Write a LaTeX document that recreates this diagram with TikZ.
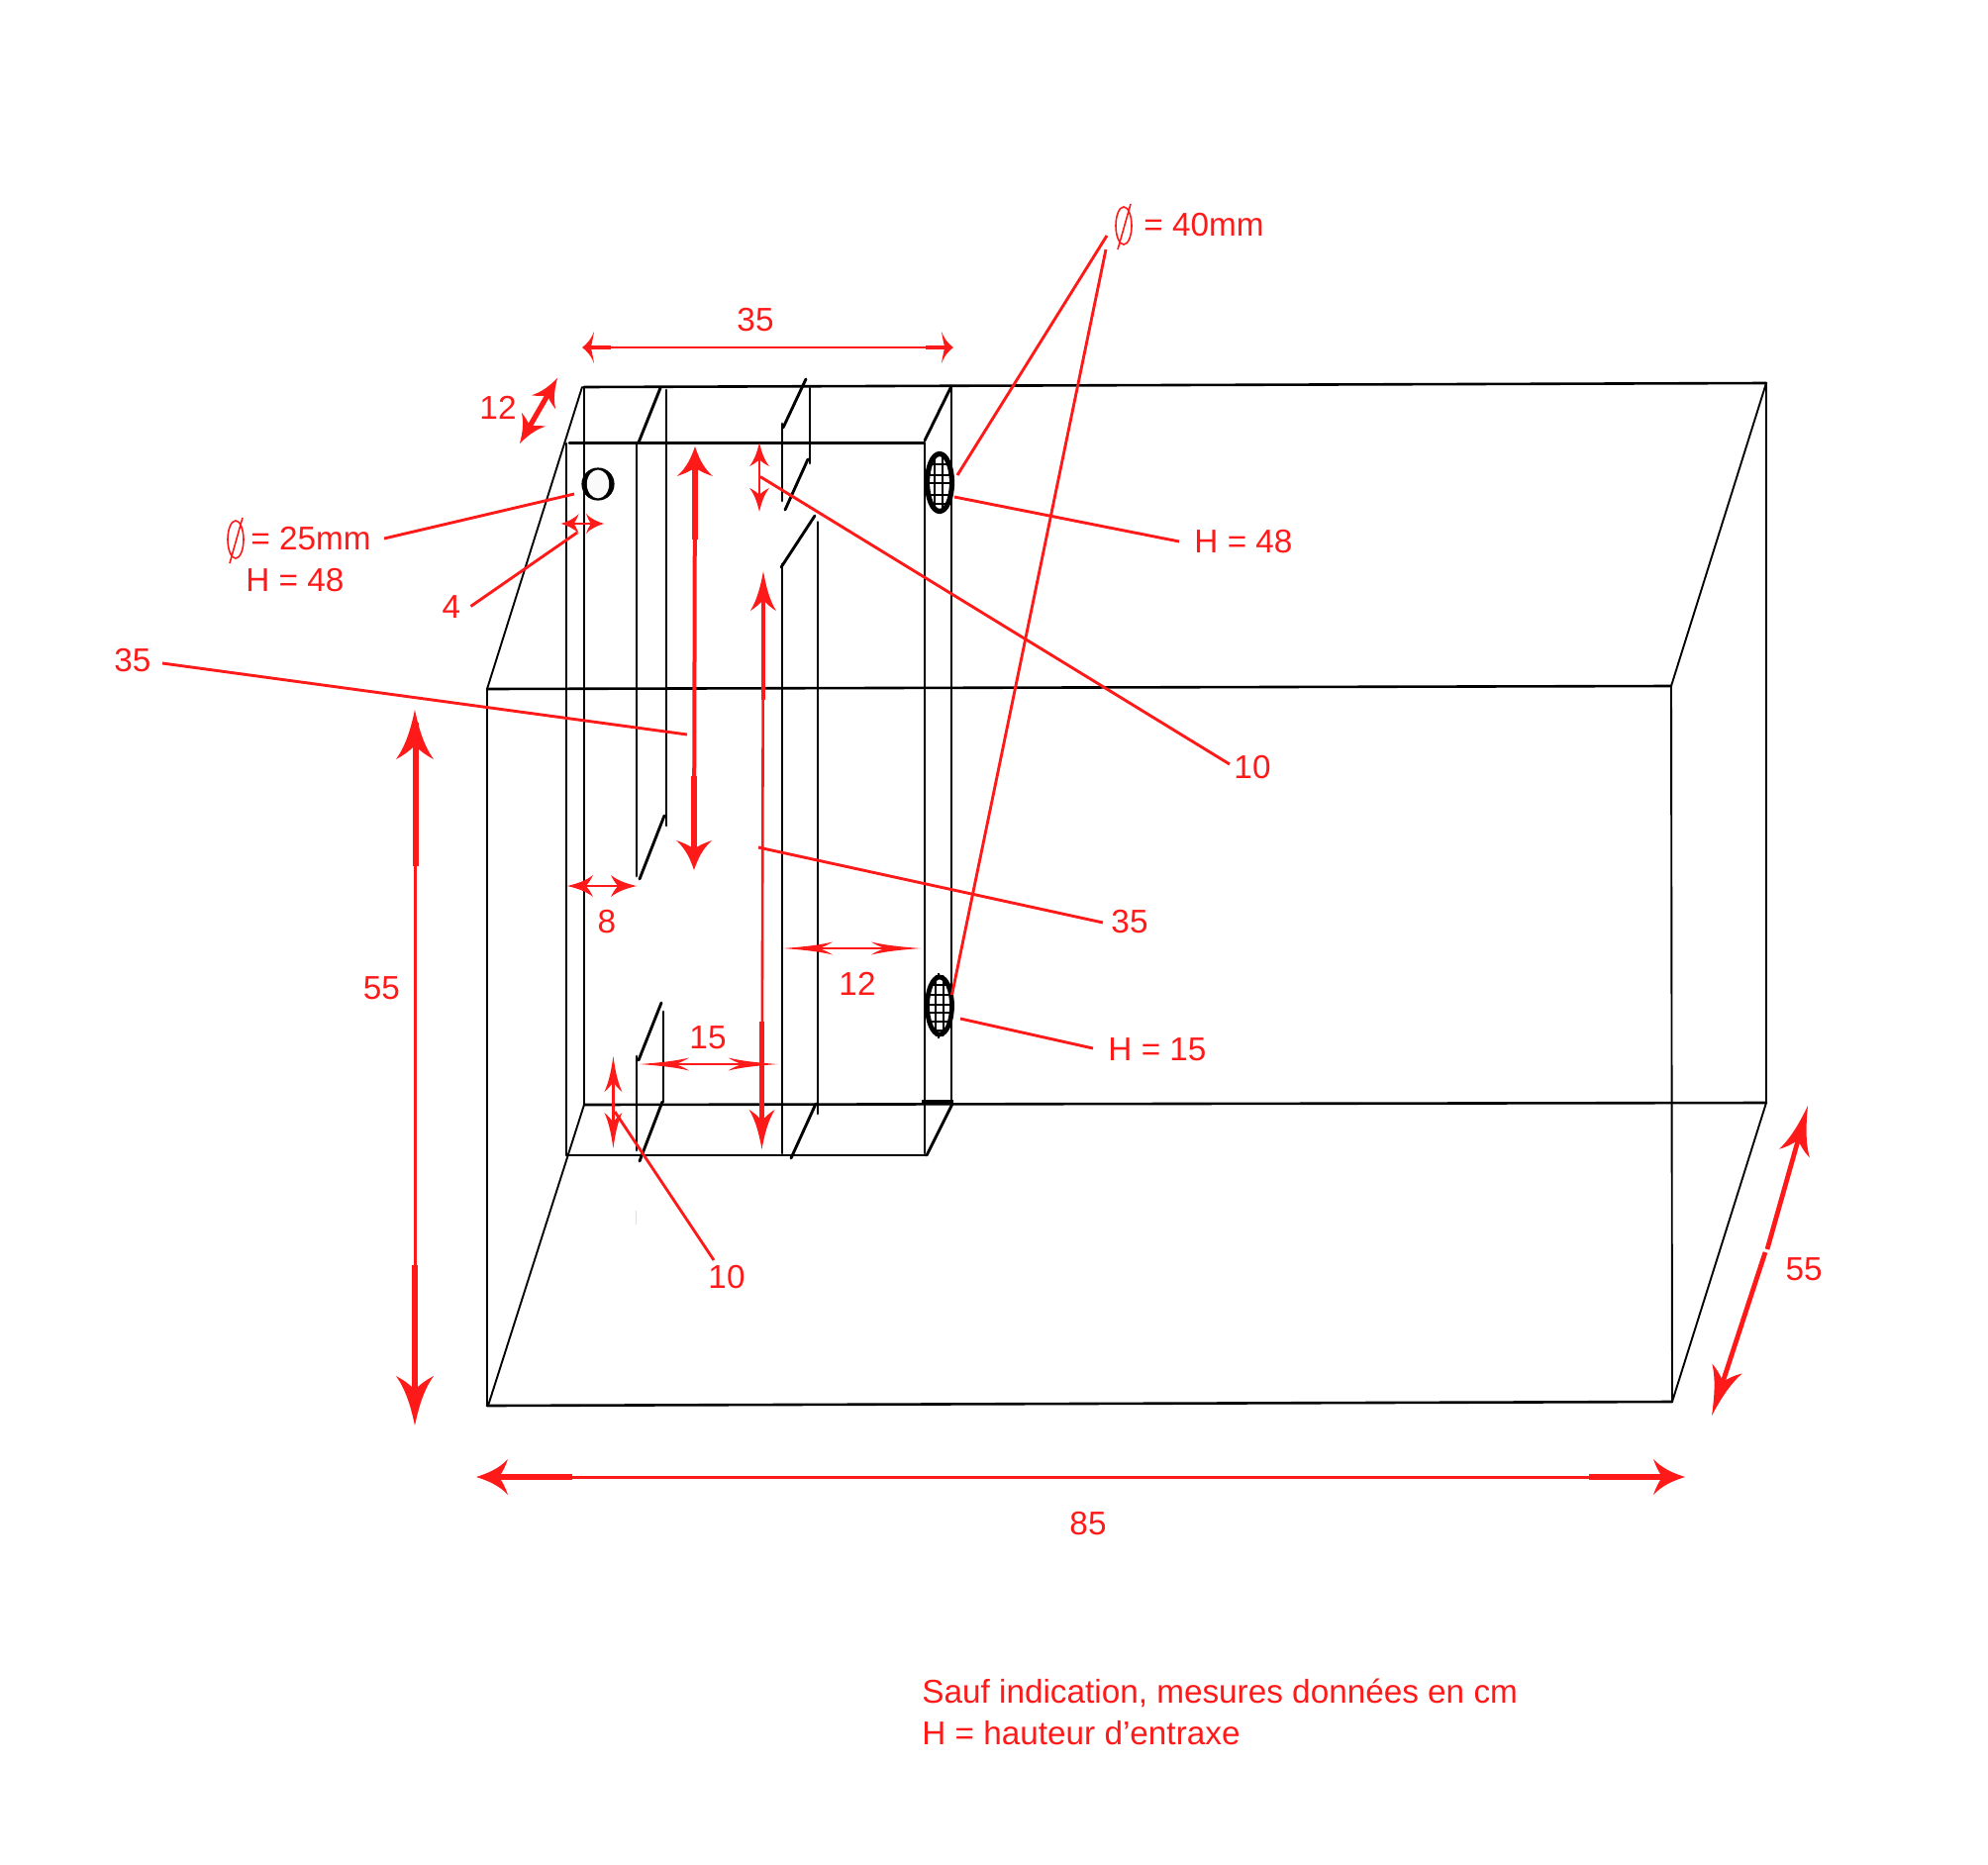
\documentclass[tikz,border=0pt]{standalone}
\usepackage{fontspec}
\setmainfont{Liberation Sans}
\usetikzlibrary{arrows.meta}
\definecolor{rd}{HTML}{FF1A1A}
\pgfdeclarearrow{
  name=Swept,
  setup code={
    \pgfarrowssettipend{0pt}
    \pgfarrowssetlineend{-.6\pgfarrowlength}
    \pgfarrowssetvisualbackend{-.6\pgfarrowlength}
    \pgfarrowssetbackend{-\pgfarrowlength}
    \pgfarrowshullpoint{0pt}{0pt}
    \pgfarrowshullpoint{-\pgfarrowlength}{.5\pgfarrowwidth}
    \pgfarrowshullpoint{-\pgfarrowlength}{-.5\pgfarrowwidth}
    \pgfarrowssavethe\pgfarrowlength
    \pgfarrowssavethe\pgfarrowwidth
  },
  drawing code={
    \pgfpathmoveto{\pgfpointorigin}
    \pgfpathcurveto{\pgfpoint{-.35\pgfarrowlength}{.1\pgfarrowwidth}}{\pgfpoint{-.7\pgfarrowlength}{.22\pgfarrowwidth}}{\pgfpoint{-\pgfarrowlength}{.5\pgfarrowwidth}}
    \pgfpathcurveto{\pgfpoint{-.9\pgfarrowlength}{.25\pgfarrowwidth}}{\pgfpoint{-.8\pgfarrowlength}{.1\pgfarrowwidth}}{\pgfpoint{-.72\pgfarrowlength}{0pt}}
    \pgfpathcurveto{\pgfpoint{-.8\pgfarrowlength}{-.1\pgfarrowwidth}}{\pgfpoint{-.9\pgfarrowlength}{-.25\pgfarrowwidth}}{\pgfpoint{-\pgfarrowlength}{-.5\pgfarrowwidth}}
    \pgfpathcurveto{\pgfpoint{-.7\pgfarrowlength}{-.22\pgfarrowwidth}}{\pgfpoint{-.35\pgfarrowlength}{-.1\pgfarrowwidth}}{\pgfpointorigin}
    \pgfusepathqfill
  },
  parameters={\the\pgfarrowlength,\the\pgfarrowwidth},
  defaults={length=10pt,width=10pt}
}
\tikzset{
  thinblack/.style={draw=black,line width=.95pt,line cap=round},
  midblack/.style={draw=black,line width=1.45pt,line cap=round},
  edgeblack/.style={draw=black,line width=1.3pt,line cap=round},
  leader/.style={draw=rd,line width=1.45pt},
  dimthin/.style={draw=rd,line width=1.1pt},
  dimmid/.style={draw=rd,line width=1.6pt},
  dimthick/.style={draw=rd,line width=2.8pt},
  tips/.style n args={2}{arrows={Swept[length=#1pt,width=#2pt]-Swept[length=#1pt,width=#2pt]}},
  lab/.style={text=rd,font=\fontsize{16.65pt}{19pt}\selectfont,inner sep=0pt},
  diam/.style={draw=rd,line width=.8pt}
}
\begin{document}
\begin{tikzpicture}[x=.5pt,y=-.5pt]
\useasboundingbox (0,0) rectangle (2008,1884);
% outer box
\draw[thinblack] (492,696) -- (492,1420);
\draw[edgeblack] (492,1420) -- (1689,1416);
\draw[thinblack] (1689,1416) -- (1688,693);
\draw[edgeblack] (492,696) -- (1688,693);
\draw[thinblack] (588,391) -- (492,696);
\draw[edgeblack] (590,391) -- (1784,387);
\draw[thinblack] (1784,387) -- (1688,693);
\draw[thinblack] (1784,387) -- (1784,1114);
\draw[thinblack] (1784,1114) -- (1689,1416);
\draw[edgeblack] (590,1116) -- (1784,1114);
\draw[thinblack] (590,1116) -- (493,1420);
% inner box
\draw[midblack] (572,448) -- (572,1167);
\draw[thinblack,line width=1.15pt] (590,391) -- (590,1116);
\draw[midblack] (575,447.5) -- (933,447.5);
\draw[midblack] (573,1167) -- (935,1167);
\draw[midblack] (934,447) -- (934,1165);
\draw[midblack] (961,391) -- (961,1115);
\draw[midblack] (961,390) -- (934,445);
\draw[midblack] (962,1115) -- (936,1167);
\draw[black,line width=2.2pt] (931,1113) -- (963,1113);
% left partition, upper
\draw[midblack] (643,447) -- (643,885);
\draw[midblack] (673,394) -- (673,834);
\draw[midblack] (667,392) -- (645,447);
\draw[midblack] (671,824) -- (646,888);
% left partition, lower
\draw[midblack] (643,1067) -- (643,1162);
\draw[midblack] (670,1022) -- (670,1113);
\draw[midblack] (668,1013) -- (645,1071);
\draw[midblack] (669,1113) -- (646,1173);
% right partition, upper
\draw[midblack] (790,428) -- (790,506);
\draw[midblack] (818,392) -- (818,468);
\draw[midblack] (814,383) -- (791,432);
\draw[midblack] (816,464) -- (793,515);
% right partition, lower
\draw[midblack] (790,570) -- (790,1165);
\draw[midblack] (826,527.5) -- (826,1125);
\draw[midblack] (823,521) -- (789,573);
\draw[midblack] (824,1115) -- (799,1170);
% faint marks
\draw[black!12,line width=.5pt] (642,1223) -- (642,1237);
% small round opening
\fill[black] (604,489) circle [x radius=16.6,y radius=16.6];
\fill[black!2] (604,489) circle [x radius=11.2,y radius=14.4];
% grilles
\begin{scope}
\clip (949,487.5) circle [x radius=14,y radius=30];
\foreach \gx in {944,952}{\draw[black,line width=1.2pt] (\gx,458) -- (\gx,518);}
\foreach \gy in {469,480,488,500,509}{\draw[black,line width=1.2pt] (935,\gy) -- (963,\gy);}
\end{scope}
\draw[black,line width=2.6pt] (949,487.5) circle [x radius=12.5,y radius=29];
\begin{scope}
\clip (949,1016) circle [x radius=14,y radius=32];
\foreach \gx in {945,953}{\draw[black,line width=1.2pt] (\gx,984) -- (\gx,1048);}
\foreach \gy in {995,1005,1015,1023,1032,1041}{\draw[black,line width=1.2pt] (935,\gy) -- (963,\gy);}
\end{scope}
\draw[black,line width=2.4pt] (949,1016) circle [x radius=12.5,y radius=29];
\draw[black,line width=1.3pt] (948,983) -- (948,988) (948,1044) -- (948,1049);
% labels
\node[lab] (t35top) at (763,323) {35};
\node[lab] (t12a) at (503,412) {12};
\node[lab,anchor=west] (t25) at (253,544.5) {= 25mm};
\node[lab,anchor=west] (th48a) at (248,586) {H = 48};
\node[lab] (t4) at (456,613) {4};
\node[lab] (t35l) at (134,667) {35};
\node[lab] (t55l) at (385.5,998) {55};
\node[lab] (t8) at (613,931) {8};
\node[lab] (t15) at (715,1048) {15};
\node[lab] (t12b) at (866,994) {12};
\node[lab] (t10b) at (734,1290) {10};
\node[lab] (t10a) at (1265,775) {10};
\node[lab] (t35r) at (1141,931) {35};
\node[lab] (th15) at (1169,1060) {H = 15};
\node[lab] (th48b) at (1256,547) {H = 48};
\node[lab,anchor=west] (t40) at (1155,227) {= 40mm};
\node[lab] (t55r) at (1822,1282) {55};
\node[lab] (t85) at (1099,1539) {85};
\node[lab,anchor=west] (nota) at (931,1710) {Sauf indication, mesures données en cm};
\node[lab,anchor=west] (notb) at (931,1751) {H = hauteur d’entraxe};
% diameter signs
\draw[diam] (238,545) circle [x radius=8,y radius=19] (245,523) -- (232,569);
\draw[diam] (1135,228) circle [x radius=8,y radius=19] (1142,206) -- (1129,252);
% leaders
\coordinate (a25) at (580,499); \coordinate (b25) at (388,544);
\draw[leader] (b25) -- (a25);
\coordinate (a4) at (583,538); \coordinate (b4) at (475.5,612.5);
\draw[leader] (b4) -- (a4);
\coordinate (a10) at (768,481.6); \coordinate (b10) at (1242,772);
\draw[leader] (a10) -- (b10);
\coordinate (a35l) at (694,742); \coordinate (b35l) at (164,670);
\draw[leader] (b35l) -- (a35l);
\coordinate (a35r) at (766,856); \coordinate (b35r) at (1114,932);
\draw[leader] (a35r) -- (b35r);
\coordinate (a10b) at (621,1123); \coordinate (b10b) at (721,1273);
\draw[leader] (a10b) -- (b10b);
\coordinate (s40a) at (1118,238); \coordinate (e40a) at (967,480);
\draw[leader] (s40a) -- (e40a);
\coordinate (s40b) at (1117,252); \coordinate (e40b) at (961.5,1005);
\draw[leader] (s40b) -- (e40b);
\coordinate (a48) at (964,502); \coordinate (b48) at (1191,547);
\draw[leader] (a48) -- (b48);
\coordinate (a15) at (970,1029); \coordinate (b15) at (1104,1059);
\draw[leader] (a15) -- (b15);
% dimension arrows
\draw[dimthin,tips={6}{16}] (588,351) -- (963,351);
\draw[dimthick,line width=2.4pt] (592,351) -- (617,351) (935,351) -- (958,351);
\draw[dimmid,line width=2.6pt,tips={14}{14}] (563,382) -- (525,448);
\draw[dimmid,line width=2pt,tips={15}{18}] (702,451) -- (701,879);
\draw[dimthick,line width=3pt] (702,462) -- (702,545) (701,784) -- (701,870);
\draw[dimthin,line width=1.3pt,tips={20}{13}] (771,577) -- (769.5,1161);
\draw[dimthick,line width=2.2pt] (771,595) -- (771,707) (769.5,1032) -- (769.5,1145);
\draw[dimthin,tips={12}{10}] (767,447) -- (767,517);
\draw[dimthin,tips={9}{10}] (566.6,529) -- (610,529);
\draw[dimthin,tips={13}{11}] (573,895) -- (643,895);
\draw[dimthin,tips={25}{6.5}] (791,958) -- (930,958);
\draw[dimthin,tips={25}{6.5}] (646,1075) -- (785.5,1075);
\draw[dimthin,tips={18}{9}] (619.4,1067) -- (619.4,1160);
\draw[dimthin,line width=1.5pt,tips={25}{19}] (419,717) -- (419,1440);
\draw[dimthick,line width=3pt] (420,730) -- (420,875) (419,1278) -- (419,1425);
\draw[dimthin,line width=1.5pt,tips={16}{18}] (481,1492) -- (1702,1492);
\draw[dimthick,line width=3pt] (490,1492) -- (577.5,1492) (1605,1492) -- (1694,1492);
\coordinate (r55a) at (1826,1117); \coordinate (r55b) at (1785,1262);
\coordinate (r55c) at (1783,1265); \coordinate (r55d) at (1729,1430);
\draw[dimthick,line width=2.4pt,arrows={Swept[length=25pt,width=16pt]-}] (r55a) -- (r55b);
\draw[dimthick,line width=2.4pt,arrows={-Swept[length=25pt,width=16pt]}] (r55c) -- (r55d);
\end{tikzpicture}
\end{document}
